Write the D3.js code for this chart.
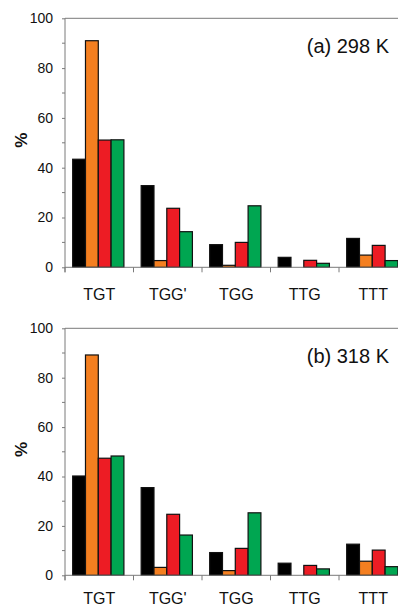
<!DOCTYPE html>
<html>
<head>
<meta charset="utf-8">
<script src="https://cdn.jsdelivr.net/npm/d3@7"></script>
<style>
  html, body { margin: 0; padding: 0; background: #fff; overflow: hidden; }
  svg { display: block; font-family: "Liberation Sans", Arial, Helvetica, sans-serif; }
</style>
</head>
<body>
<script>
// conformers on x, four series per conformer
var categories = ["TGT", "TGG'", "TGG", "TTG", "TTT"];
var seriesColors = ["#000000", "#f47f20", "#ed1c24", "#00a651"];
var yTicks = [0, 20, 40, 60, 80, 100];

// (a) 298 K
var a_black  = [43.4, 32.8, 9.1, 4.0, 11.6];
var a_orange = [91.0, 2.7, 0.8, 0, 4.9];
var a_red    = [51.1, 23.7, 10.0, 2.8, 8.8];
var a_green  = [51.2, 14.3, 24.7, 1.6, 2.7];

// (b) 318 K
var b_black  = [40.2, 35.5, 9.2, 4.9, 12.6];
var b_orange = [89.2, 3.2, 1.9, 0, 5.7];
var b_red    = [47.4, 24.7, 10.9, 4.0, 10.2];
var b_green  = [48.3, 16.3, 25.3, 2.6, 3.5];

var W = 398, H = 609;
var svg = d3.select("body").append("svg").attr("width", W).attr("height", H);

var left = 65, right = 407.5;

function drawPanel(title, series, top, bottom, labelGap){
  var g = svg.append("g");

  var x0 = d3.scaleBand().domain(categories).range([left, right]).paddingInner(0).paddingOuter(0);
  var bw = x0.bandwidth();
  var x1 = d3.scaleBand().domain(d3.range(series.length)).range([bw * 0.112, bw * 0.86]);
  var y = d3.scaleLinear().domain([0, 100]).range([bottom, top]);

  // frame: top line
  g.append("line")
    .attr("x1", left).attr("x2", W + 5)
    .attr("y1", top).attr("y2", top)
    .attr("stroke", "#7a7a7a").attr("stroke-width", 1);

  // bars
  var rows = categories.map(function(c, i){
    return series.map(function(s, j){ return {cat: c, k: j, v: s[i]}; });
  });
  g.selectAll(".grp").data(rows).enter().append("g")
    .attr("class", "grp")
    .attr("transform", function(d, i){ return "translate(" + x0(categories[i]) + ",0)"; })
    .selectAll("rect").data(function(d){ return d.filter(function(e){ return e.v > 0; }); })
    .enter().append("rect")
      .attr("x", function(d){ return x1(d.k); })
      .attr("width", x1.bandwidth())
      .attr("y", function(d){ return y(d.v); })
      .attr("height", function(d){ return y(0) - y(d.v); })
      .attr("fill", function(d){ return seriesColors[d.k]; })
      .attr("stroke", "#111")
      .attr("stroke-width", 1.2);

  // y axis, major + minor ticks
  var yAxis = d3.axisLeft(y).tickValues(yTicks).tickSize(3).tickPadding(9);
  var ya = g.append("g").attr("transform", "translate(" + left + ",0)").call(yAxis);
  ya.select(".domain").attr("stroke", "#7a7a7a").attr("d", "M0," + top + "V" + (bottom + 5));
  ya.selectAll(".tick line").attr("stroke", "#7a7a7a");
  ya.selectAll("text").attr("font-size", 14).attr("fill", "#111");
  var minor = d3.range(10, 100, 20);
  g.selectAll(".minor").data(minor).enter().append("line")
    .attr("x1", left - 3).attr("x2", left)
    .attr("y1", function(d){ return y(d); }).attr("y2", function(d){ return y(d); })
    .attr("stroke", "#7a7a7a");

  // x axis with boundary ticks
  g.append("line")
    .attr("x1", left).attr("x2", W + 5)
    .attr("y1", bottom).attr("y2", bottom)
    .attr("stroke", "#7a7a7a");
  g.selectAll(".xt").data(categories).enter().append("line")
    .attr("x1", function(d){ return x0(d); }).attr("x2", function(d){ return x0(d); })
    .attr("y1", bottom).attr("y2", bottom + 5)
    .attr("stroke", "#7a7a7a");
  g.selectAll(".xl").data(categories).enter().append("text")
    .attr("x", function(d){ return x0(d) + bw / 2; })
    .attr("y", bottom + labelGap)
    .attr("text-anchor", "middle")
    .attr("font-size", 16)
    .attr("fill", "#111")
    .text(function(d){ return d; });

  // y label
  g.append("text")
    .attr("transform", "translate(" + 27 + "," + (top + (bottom - top) * 0.49) + ") rotate(-90)")
    .attr("text-anchor", "middle")
    .attr("font-size", 17)
    .attr("font-weight", "bold")
    .attr("fill", "#111")
    .text("%");

  // panel title
  g.append("text")
    .attr("x", 389).attr("y", top + 35)
    .attr("text-anchor", "end")
    .attr("font-size", 20)
    .attr("fill", "#111")
    .text(title);
}

drawPanel("(a) 298 K", [a_black, a_orange, a_red, a_green], 18.3, 267.3, 33);
drawPanel("(b) 318 K", [b_black, b_orange, b_red, b_green], 328.3, 575.3, 29);
</script>
</body>
</html>
